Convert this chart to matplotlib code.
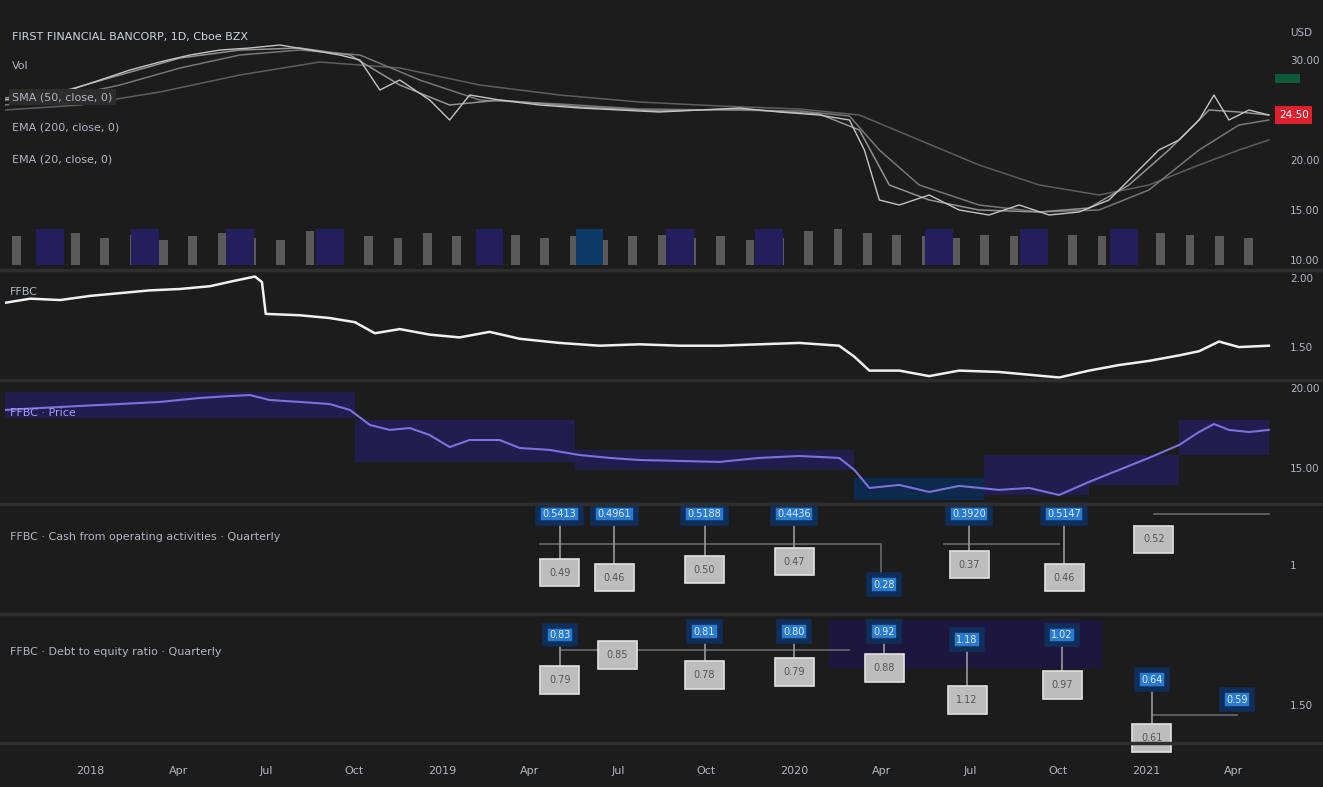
import matplotlib
matplotlib.use("Agg")
import matplotlib.pyplot as plt
from matplotlib.patches import Rectangle
from matplotlib.lines import Line2D
import numpy as np

nan = np.nan

# x positions are months counted from Jan 2018 (0 = Jan 2018)
tick_months = [0, 3, 6, 9, 12, 15, 18, 21, 24, 27, 30, 33, 36, 39]
tick_labels = ["2018", "Apr", "Jul", "Oct", "2019", "Apr", "Jul", "Oct",
               "2020", "Apr", "Jul", "Oct", "2021", "Apr"]

# main pane: close and moving averages
price_x = [-2.9, -1.7, -0.68, 0.34, 1.36, 2.38, 3.41, 4.43, 5.45, 6.47,
           7.49, 8.51, 9.2, 9.88, 10.56, 11.58, 12.26, 12.94, 13.96, 15.33,
           16.69, 18.05, 19.41, 20.78, 22.14, 23.5, 24.86, 25.89, 26.4, 26.91,
           27.59, 28.61, 29.63, 30.65, 31.68, 32.7, 33.72, 34.74, 35.76, 36.44,
           37.13, 37.81, 38.32, 38.83, 39.51, 40.19]
price = [26.0, 26.5, 27.0, 28.0, 29.0, 29.8, 30.5, 31.0, 31.2, 31.5,
         31.0, 30.5, 30.0, 27.0, 28.0, 26.0, 24.0, 26.5, 26.0, 25.5,
         25.2, 25.0, 24.8, 25.0, 25.2, 24.8, 24.5, 24.0, 21.0, 16.0,
         15.5, 16.5, 15.0, 14.5, 15.5, 14.5, 14.8, 16.0, 19.0, 21.0,
         22.0, 24.0, 26.5, 24.0, 25.0, 24.5]

ema20_x = [-2.9, -1.02, 1.02, 3.07, 5.11, 7.15, 8.86, 10.56, 12.26, 13.96,
           16.69, 19.41, 22.14, 24.86, 26.23, 27.25, 28.61, 30.31, 32.36, 34.06,
           35.42, 36.78, 38.15, 39.17, 40.19]
ema20 = [26.2, 26.8, 28.5, 30.2, 31.0, 31.2, 30.5, 27.5, 25.5, 26.0,
         25.3, 24.9, 25.1, 24.6, 23.0, 17.5, 16.0, 15.0, 14.8, 15.2,
         17.5, 21.0, 25.0, 24.8, 24.5]

sma50_x = [-2.9, -1.02, 1.02, 3.07, 5.11, 7.15, 9.2, 11.24, 13.28, 16.01,
           18.73, 21.46, 24.18, 25.89, 26.91, 28.27, 30.31, 32.36, 34.4, 36.1,
           37.81, 39.17, 40.19]
sma50 = [25.5, 26.2, 27.5, 29.2, 30.5, 31.0, 30.5, 28.0, 26.0, 25.6,
         25.1, 25.0, 24.9, 24.4, 21.0, 17.5, 15.5, 14.8, 15.0, 17.0,
         21.0, 23.5, 24.0]

ema200_x = [-2.9, -0.34, 2.38, 5.11, 7.83, 10.56, 13.28, 16.01, 18.73, 21.46,
            24.18, 26.23, 28.27, 30.31, 32.36, 34.4, 36.1, 37.81, 39.17, 40.19]
ema200 = [25.0, 25.5, 26.8, 28.5, 29.8, 29.2, 27.5, 26.5, 25.8, 25.4,
          25.1, 24.5, 22.0, 19.5, 17.5, 16.5, 17.5, 19.5, 21.0, 22.0]

vol_x = [-2.5, -1.5, -0.5, 0.5, 1.5, 2.5, 3.5, 4.5, 5.5, 6.5,
         7.5, 8.5, 9.5, 10.5, 11.5, 12.5, 13.5, 14.5, 15.5, 16.5,
         17.5, 18.5, 19.5, 20.5, 21.5, 22.5, 23.5, 24.5, 25.5, 26.5,
         27.5, 28.5, 29.5, 30.5, 31.5, 32.5, 33.5, 34.5, 35.5, 36.5,
         37.5, 38.5, 39.5]
vol = [0.8, 0.7, 0.9, 0.75, 0.85, 0.7, 0.8, 0.9, 0.75, 0.7,
       0.95, 0.85, 0.8, 0.75, 0.9, 0.8, 0.7, 0.85, 0.75, 0.8,
       0.7, 0.8, 0.85, 0.75, 0.8, 0.7, 0.75, 0.95, 1.0, 0.9,
       0.85, 0.8, 0.75, 0.85, 0.8, 0.9, 0.85, 0.8, 0.75, 0.9,
       0.85, 0.8, 0.75]

event_x = [-1.36, 1.87, 5.11, 8.17, 13.62, 17.03, 20.1, 23.16, 28.95, 32.19, 35.25]
event_col = ["#241f5c", "#241f5c", "#241f5c", "#241f5c", "#241f5c", "#0d3a66",
             "#241f5c", "#241f5c", "#241f5c", "#241f5c", "#241f5c"]

# second pane: ratio line
ratio_x = [-2.9, -2.04, -1.02, 0.0, 1.02, 2.04, 3.07, 4.09, 4.94, 5.62,
           5.86, 5.99, 7.15, 8.17, 9.03, 9.71, 10.56, 11.58, 12.6, 13.62,
           14.65, 16.01, 17.37, 18.73, 20.1, 21.46, 22.82, 24.18, 25.54, 26.06,
           26.57, 27.59, 28.61, 29.63, 30.99, 32.02, 33.04, 34.06, 35.08, 36.1,
           37.13, 37.81, 38.49, 39.17, 40.19]
ratio = [1.82, 1.85, 1.84, 1.87, 1.89, 1.91, 1.92, 1.94, 1.98, 2.01,
         1.97, 1.74, 1.73, 1.71, 1.68, 1.60, 1.63, 1.59, 1.57, 1.61,
         1.56, 1.53, 1.51, 1.52, 1.51, 1.51, 1.52, 1.53, 1.51, 1.43,
         1.33, 1.33, 1.29, 1.33, 1.32, 1.30, 1.28, 1.33, 1.37, 1.40,
         1.44, 1.47, 1.54, 1.50, 1.51]

# third pane: price line with quarterly range boxes
rel_x = [-2.9, -1.7, -0.34, 1.02, 2.38, 3.75, 4.77, 5.45, 6.13, 7.15,
         8.17, 8.86, 9.54, 10.22, 10.9, 11.58, 12.26, 12.94, 13.96, 14.65,
         15.67, 16.69, 17.71, 18.73, 20.1, 21.46, 22.82, 24.18, 25.54, 26.06,
         26.57, 27.59, 28.61, 29.63, 30.99, 32.02, 33.04, 34.06, 35.08, 36.1,
         37.13, 37.81, 38.32, 38.83, 39.51, 40.19]
rel = [18.63, 18.75, 18.88, 19.0, 19.13, 19.38, 19.5, 19.56, 19.25, 19.13,
       19.0, 18.63, 17.69, 17.38, 17.5, 17.06, 16.31, 16.75, 16.75, 16.25,
       16.13, 15.81, 15.63, 15.5, 15.44, 15.38, 15.63, 15.75, 15.63, 14.88,
       13.75, 13.94, 13.5, 13.88, 13.63, 13.75, 13.31, 14.13, 14.88, 15.63,
       16.44, 17.25, 17.75, 17.38, 17.25, 17.38]
box_start = [-2.9, 9.03, 16.52, 26.06, 30.48, 34.06, 37.13]
box_end = [9.03, 16.52, 26.06, 30.48, 34.06, 37.13, 40.19]
box_high = [19.75, 18.0, 16.13, 14.38, 15.81, 15.81, 18.0]
box_low = [18.13, 15.38, 14.88, 13.0, 13.31, 13.94, 15.81]
box_col = ["#221c4f", "#221c4f", "#221c4f", "#0c2a4c", "#221c4f", "#221c4f", "#221c4f"]

# fourth pane: quarterly reported / estimate callouts
cfo_rep_x = [16.01, 17.88, 20.95, 24.01, 27.08, 29.97, 33.21]
cfo_rep = [3.0, 3.0, 3.0, 3.0, 0.2, 3.0, 3.0]
cfo_rep_lbl = ["0.5413", "0.4961", "0.5188", "0.4436", "0.28", "0.3920", "0.5147"]
cfo_est_x = [16.01, 17.88, 20.95, 24.01, 29.97, 33.21, 36.27]
cfo_est = [0.68, 0.48, 0.8, 1.12, 1.0, 0.48, 2.0]
cfo_est_lbl = ["0.49", "0.46", "0.50", "0.47", "0.37", "0.46", "0.52"]
cfo_line_x = [15.33, 26.98, 26.98, nan, 29.12, 33.04, nan, 36.27, 40.19]
cfo_line = [1.8, 1.8, 0.6, nan, 1.8, 1.8, nan, 3.0, 3.0]

# fifth pane: debt to equity callouts
de_rep_x = [16.01, 20.95, 24.01, 27.08, 29.9, 33.14, 36.2, 39.1]
de_rep = [3.25, 3.33, 3.33, 3.33, 3.13, 3.25, 2.13, 1.63]
de_rep_lbl = ["0.83", "0.81", "0.80", "0.92", "1.18", "1.02", "0.64", "0.59"]
de_est_x = [16.01, 17.98, 20.95, 24.01, 27.08, 29.9, 33.14, 36.2]
de_est = [2.13, 2.75, 2.25, 2.33, 2.43, 1.63, 2.0, 0.68]
de_est_lbl = ["0.79", "0.85", "0.78", "0.79", "0.88", "1.12", "0.97", "0.61"]
de_line_x = [16.01, 25.89, nan, 36.2, 39.1]
de_line = [2.88, 2.88, nan, 1.25, 1.25]

W, H = 1323, 787
BG = "#1c1c1c"
FG = "#b2b5be"
XMIN, XMAX = -2.9, 40.4

fig = plt.figure(figsize=(W / 100, H / 100), dpi=100, facecolor=BG)


def pane(top, bottom):
    ax = fig.add_axes([5 / W, 1 - bottom / H, 1270 / W, (bottom - top) / H])
    ax.set_facecolor(BG)
    ax.set_xlim(XMIN, XMAX)
    for s in ax.spines.values():
        s.set_visible(False)
    ax.yaxis.tick_right()
    ax.tick_params(axis="y", length=0, labelsize=7.5, labelcolor=FG, pad=11)
    ax.set_xticks([])
    return ax


def ptext(x, y, s, **kw):
    kw.setdefault("color", FG)
    kw.setdefault("fontsize", 8)
    fig.text(x / W, 1 - y / H, s, va="center", ha="left", **kw)


# --- main price pane
ax1 = pane(10, 269)
ax1.set_ylim(9.1, 35.0)
axv = ax1.twinx()
axv.set_ylim(-0.12, 7.2)
axv.set_axis_off()
axv.bar(vol_x, vol, width=0.3, color="#5a5a5a")
axv.bar(event_x, [1.0] * len(event_x), width=0.95, color=event_col)
ax1.yaxis.tick_right()
ax1.tick_params(axis="y", length=0, labelsize=7.5, labelcolor=FG, pad=11)

ax1.plot(ema200_x, ema200, color="#5e5e5e", lw=1.1)
ax1.plot(sma50_x, sma50, color="#777777", lw=1.1)
ax1.plot(ema20_x, ema20, color="#939393", lw=1.1)
ax1.plot(price_x, price, color="#c4c4c4", lw=1.0)
# the 25.00 label sits under the last-price tag, so it is left out
ax1.set_yticks([30, 20, 15, 10], ["30.00", "20.00", "15.00", "10.00"])
ax1.set_zorder(axv.get_zorder() + 1)
ax1.patch.set_visible(False)
axv.patch.set_facecolor(BG)

ytr = ax1.get_yaxis_transform()
ax1.add_patch(Rectangle((1.0, 27.7), 0.02, 0.9, transform=ytr, clip_on=False,
                        color="#0e5a3a", lw=0))
ax1.text(1.003, price[-1], f"{price[-1]:.2f}", transform=ytr, color="white",
         fontsize=7.5, va="center", ha="left",
         bbox=dict(boxstyle="square,pad=0.35", fc="#e0202e", ec="none"))

ptext(1290, 33, "USD", fontsize=7.5)
ptext(12, 37, "FIRST FINANCIAL BANCORP, 1D, Cboe BZX", color="#d1d4dc")
ptext(12, 66, "Vol")
ptext(12, 97, "SMA (50, close, 0)",
      bbox=dict(boxstyle="square,pad=0.3", fc="#2c2c2c", ec="none"))
ptext(12, 128, "EMA (200, close, 0)")
ptext(12, 159, "EMA (20, close, 0)")

# --- ratio pane
ax2 = pane(271, 380)
ax2.set_ylim(1.262, 2.05)
ax2.plot(ratio_x, ratio, color="#f0f0f0", lw=1.8)
ax2.set_yticks([2.0, 1.5], ["2.00", "1.50"])
ptext(10, 292, "FFBC")

# --- price pane with quarterly boxes
ax3 = pane(381, 503)
ax3.set_ylim(12.81, 20.44)
for s, e, hi, lo, c in zip(box_start, box_end, box_high, box_low, box_col):
    ax3.add_patch(Rectangle((s, lo), e - s, hi - lo, color=c, lw=0))
ax3.plot(rel_x, rel, color="#7d72dc", lw=1.5)
ax3.set_yticks([20, 15], ["20.00", "15.00"])
ptext(10, 413, "FFBC · Price", color="#a49cf0")


def callouts(ax, rx, rv, rl, ex, ev, el, lx, lv):
    ax.plot(lx, lv, color="#6a6a6a", lw=1.2, zorder=1)
    for x, v in zip(rx, rv):
        if x in ex:
            e = ev[ex.index(x)]
            ax.plot([x, x], [v, e], color="#9a9a9a", lw=1.2, zorder=2)
    for x, v, s in zip(ex, ev, el):
        ax.text(x, v, s, ha="center", va="center", fontsize=7, color="#555555",
                zorder=3, bbox=dict(boxstyle="square,pad=0.9", fc="#bdbdbd",
                                    ec="#e2e2e2", lw=1.2))
    for x, v, s in zip(rx, rv, rl):
        ax.text(x, v, s, ha="center", va="center", fontsize=7, color="#dcecff",
                zorder=4, bbox=dict(boxstyle="square,pad=0.45", fc="#2a7bd0",
                                    ec="#0f2f5a", lw=4))


# --- cash from operations pane
ax4 = pane(504, 613)
ax4.set_ylim(-0.92, 3.4)
callouts(ax4, cfo_rep_x, cfo_rep, cfo_rep_lbl, cfo_est_x, cfo_est, cfo_est_lbl,
         cfo_line_x, cfo_line)
ax4.set_yticks([1], ["1"])
ptext(10, 537, "FFBC · Cash from operating activities · Quarterly")

# --- debt to equity pane
ax5 = pane(614, 742)
ax5.set_ylim(0.575, 3.775)
ax5.add_patch(Rectangle((25.2, 2.43), 9.3, 1.2, color="#1d1740", lw=0, zorder=0))
callouts(ax5, de_rep_x, de_rep, de_rep_lbl, de_est_x, de_est, de_est_lbl,
         de_line_x, de_line)
ax5.set_yticks([1.5], ["1.50"])
ax5.set_xticks(tick_months, tick_labels)
ax5.tick_params(axis="x", length=0, labelsize=8, labelcolor=FG, pad=17)
ptext(10, 652, "FFBC · Debt to equity ratio · Quarterly")

# pane separators
for y in [270, 380.5, 503.5, 613.5, 743]:
    fig.add_artist(Line2D([0, 1], [1 - y / H, 1 - y / H], transform=fig.transFigure,
                          color="#2e2e2e", lw=2.5))

fig.savefig("out.png", dpi=100, facecolor=BG)
